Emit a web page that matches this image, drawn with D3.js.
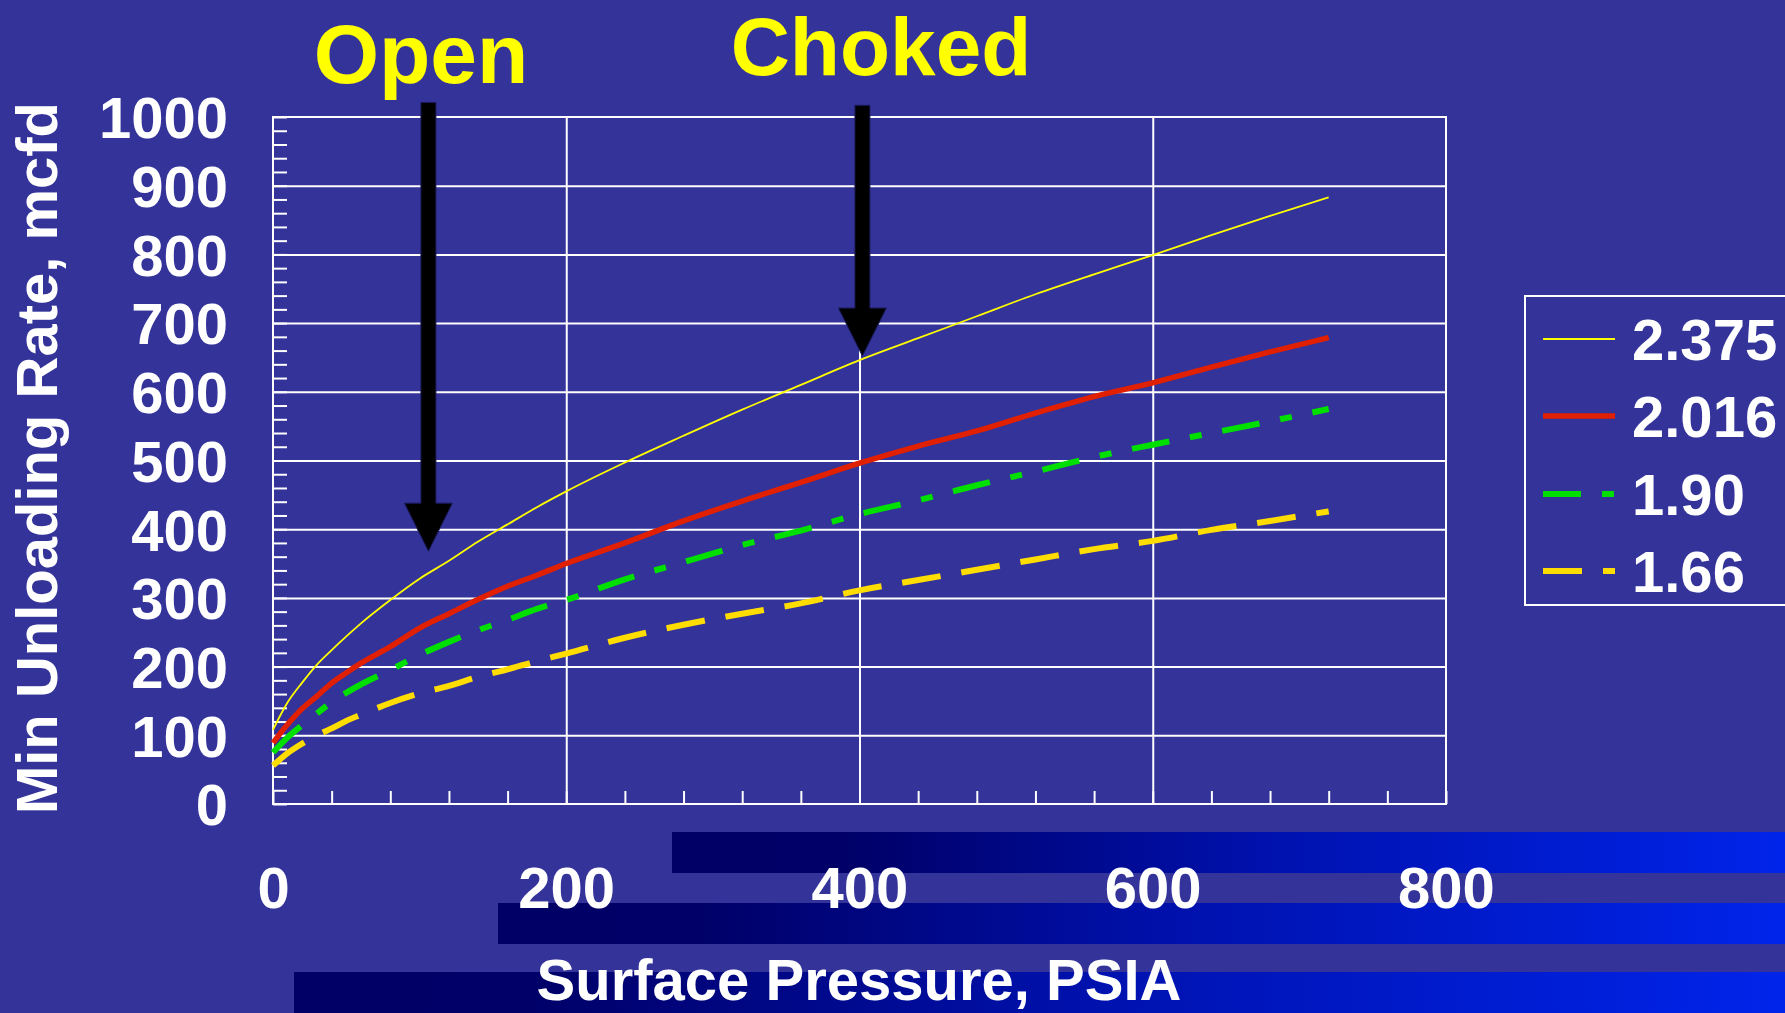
<!DOCTYPE html>
<html>
<head>
<meta charset="utf-8">
<script src="https://cdn.jsdelivr.net/npm/d3@7"></script>
<style>
  html, body { margin: 0; padding: 0; background: #333399; overflow: hidden; }
  svg { display: block; }
  text { font-family: "Liberation Sans", Arial, Helvetica, sans-serif; font-weight: bold; }
</style>
</head>
<body>
<svg id="chart" width="1785" height="1013"></svg>
<script>
// Surface pressure (psia) at which each curve is sampled
const pressure = [0, 10, 20, 30, 40, 50, 60, 80, 100, 120, 140, 160, 180, 200,
                  240, 280, 320, 360, 400, 440, 480, 520, 560, 600, 640, 680, 720];

// Minimum unloading rate (mcfd) by tubing size
const rate2375 = [108, 148, 177, 203, 224, 244, 263, 297, 328, 354, 382, 407, 432, 455,
                  497, 536, 574, 610, 646, 678, 710, 742, 771, 799, 828, 856, 883];
const rate2016 = [89, 116, 139, 157, 176, 191, 205, 229, 256, 277, 298, 317, 333, 350,
                  380, 412, 441, 468, 496, 521, 543, 569, 593, 613, 636, 658, 679];
const rate190  = [75, 97, 115, 132, 148, 162, 174, 195, 217, 236, 253, 268, 284, 297,
                  327, 352, 377, 398, 422, 442, 464, 484, 505, 523, 540, 557, 575];
const rate166  = [56, 74, 88, 100, 110, 121, 130, 147, 161, 172, 185, 196, 208, 219,
                  242, 261, 277, 292, 311, 326, 341, 356, 371, 383, 399, 412, 426];

const seriesNames = ["2.375", "2.016", "1.90", "1.66"];
const seriesValues = [rate2375, rate2016, rate190, rate166];

// Axis ticks
const yTickLabels = d3.range(0, 1001, 100);
const xTickLabels = [0, 200, 400, 600, 800];

// Annotations: label, pressure, arrow top and tip (mcfd)
const noteLabels = ["Open", "Choked"];
const notePressure = [106, 402];
const noteArrowTop = [1021, 1017];
const noteArrowTip = [368, 652];

// ---- presentation ----
const styles = [
  { color: "#ffff00", width: 1.8, dash: null },
  { color: "#e02000", width: 5.5, dash: null },
  { color: "#00e000", width: 6,   dash: "38,21,12,21" },
  { color: "#ffdd00", width: 6,   dash: "39,21" }
];

const W = 1785, H = 1013;
const plot = { left: 273, right: 1446, top: 117, bottom: 804 };
const svg = d3.select("#chart");

const x = d3.scaleLinear().domain([0, 800]).range([plot.left, plot.right]);
const y = d3.scaleLinear().domain([0, 1000]).range([plot.bottom, plot.top]);

svg.append("rect").attr("width", W).attr("height", H).attr("fill", "#333399");

// Shaded bands along the bottom
const defs = svg.append("defs");
const grad = defs.append("linearGradient").attr("id", "band").attr("x1", 0).attr("x2", 1).attr("y1", 0).attr("y2", 0);
grad.append("stop").attr("offset", 0).attr("stop-color", "#000066");
grad.append("stop").attr("offset", 0.16).attr("stop-color", "#000068");
grad.append("stop").attr("offset", 0.55).attr("stop-color", "#0012b0");
grad.append("stop").attr("offset", 1).attr("stop-color", "#0024ea");

const bandStart = [672, 498, 294];
const bandTop = [832, 903, 972];
svg.append("g").selectAll("rect").data(bandStart).join("rect")
  .attr("x", d => d).attr("y", (d, i) => bandTop[i])
  .attr("width", d => W - d).attr("height", 41)
  .attr("fill", "url(#band)");

// Grid lines
const grid = svg.append("g").attr("class", "grid");
grid.append("g").attr("transform", `translate(${plot.left},0)`)
  .call(d3.axisLeft(y).tickValues(d3.range(100, 1000, 100)).tickSize(-(plot.right - plot.left)).tickFormat(""))
  .call(g => g.select(".domain").remove());
grid.append("g").attr("transform", `translate(0,${plot.bottom})`)
  .call(d3.axisBottom(x).tickValues([200, 400, 600]).tickSize(-(plot.bottom - plot.top)).tickFormat(""))
  .call(g => g.select(".domain").remove());
grid.selectAll("line").attr("stroke", "#ffffff").attr("stroke-width", 2);

// Minor ticks inside the frame
const minor = svg.append("g");
minor.append("g").attr("transform", `translate(${plot.left},0)`)
  .call(d3.axisLeft(y).tickValues(d3.range(0, 1001, 20)).tickSize(-14).tickFormat(""))
  .call(g => g.select(".domain").remove());
minor.append("g").attr("transform", `translate(0,${plot.bottom})`)
  .call(d3.axisBottom(x).tickValues(d3.range(0, 801, 40)).tickSize(-13).tickFormat(""))
  .call(g => g.select(".domain").remove());
minor.selectAll("line").attr("stroke", "#ffffff").attr("stroke-width", 2);

// Frame
svg.append("rect")
  .attr("x", plot.left).attr("y", plot.top)
  .attr("width", plot.right - plot.left).attr("height", plot.bottom - plot.top)
  .attr("fill", "none").attr("stroke", "#ffffff").attr("stroke-width", 2);

// Tick labels
const yAxis = svg.append("g").attr("transform", `translate(${plot.left},0)`)
  .call(d3.axisLeft(y).tickValues(yTickLabels).tickFormat(d3.format("d")).tickSize(0).tickPadding(45));
yAxis.select(".domain").remove();
yAxis.selectAll("text").attr("fill", "#ffffff").attr("font-size", 58)
  .attr("dy", "0.36em")
  .style("font-family", '"Liberation Sans", Arial, sans-serif').style("font-weight", "bold");

const xAxis = svg.append("g").attr("transform", `translate(0,${plot.bottom})`)
  .call(d3.axisBottom(x).tickValues(xTickLabels).tickFormat(d3.format("d")).tickSize(0).tickPadding(63));
xAxis.select(".domain").remove();
xAxis.selectAll("text").attr("fill", "#ffffff").attr("font-size", 58)
  .style("font-family", '"Liberation Sans", Arial, sans-serif').style("font-weight", "bold");

// Axis titles
svg.append("text")
  .attr("x", 859).attr("y", 1000).attr("text-anchor", "middle")
  .attr("fill", "#ffffff").attr("font-size", 58)
  .text("Surface Pressure, PSIA");
svg.append("text")
  .attr("transform", "translate(57,458) rotate(-90)").attr("text-anchor", "middle")
  .attr("fill", "#ffffff").attr("font-size", 58)
  .text("Min Unloading Rate, mcfd");

// Curves
const line = d3.line()
  .x(d => x(d[0])).y(d => y(d[1]))
  .curve(d3.curveMonotoneX);

svg.append("g").selectAll("path")
  .data(seriesValues.map(vals => pressure.map((p, i) => [p, vals[i]])))
  .join("path")
  .attr("d", line)
  .attr("fill", "none")
  .attr("stroke", (d, i) => styles[i].color)
  .attr("stroke-width", (d, i) => styles[i].width)
  .attr("stroke-dasharray", (d, i) => styles[i].dash)
  .attr("stroke-linejoin", "round");

// Annotation arrows and labels
const arrows = svg.append("g");
noteLabels.forEach((label, i) => {
  const cx = x(notePressure[i]);
  const top = y(noteArrowTop[i]);
  const tip = y(noteArrowTip[i]);
  const sw = 7.5, hw = 24, hl = 48;
  const p = d3.path();
  p.moveTo(cx - sw, top);
  p.lineTo(cx + sw, top);
  p.lineTo(cx + sw, tip - hl);
  p.lineTo(cx + hw, tip - hl);
  p.lineTo(cx, tip);
  p.lineTo(cx - hw, tip - hl);
  p.lineTo(cx - sw, tip - hl);
  p.closePath();
  arrows.append("path").attr("d", p.toString()).attr("fill", "#000000")
    .attr("stroke", "#1a1a5a").attr("stroke-width", 1);
});
const labelX = [421, 881];
const labelY = [83, 75];
const labelSize = [84, 82];
svg.append("g").selectAll("text").data(noteLabels).join("text")
  .attr("x", (d, i) => labelX[i]).attr("y", (d, i) => labelY[i])
  .attr("text-anchor", "middle").attr("fill", "#ffff00")
  .attr("font-size", (d, i) => labelSize[i])
  .text(d => d);

// Legend
const legend = svg.append("g");
legend.append("rect")
  .attr("x", 1525).attr("y", 296).attr("width", 300).attr("height", 309)
  .attr("fill", "none").attr("stroke", "#ffffff").attr("stroke-width", 2);
const rowBase = [360, 437, 515, 592];
const rows = legend.selectAll("g.row").data(seriesNames).join("g").attr("class", "row");
rows.append("line")
  .attr("x1", 1543).attr("x2", 1615)
  .attr("y1", (d, i) => rowBase[i] - 21).attr("y2", (d, i) => rowBase[i] - 21)
  .attr("stroke", (d, i) => styles[i].color)
  .attr("stroke-width", (d, i) => styles[i].width)
  .attr("stroke-dasharray", (d, i) => styles[i].dash);
rows.append("text")
  .attr("x", 1632).attr("y", (d, i) => rowBase[i])
  .attr("fill", "#ffffff").attr("font-size", 58)
  .text(d => d);
</script>
</body>
</html>
